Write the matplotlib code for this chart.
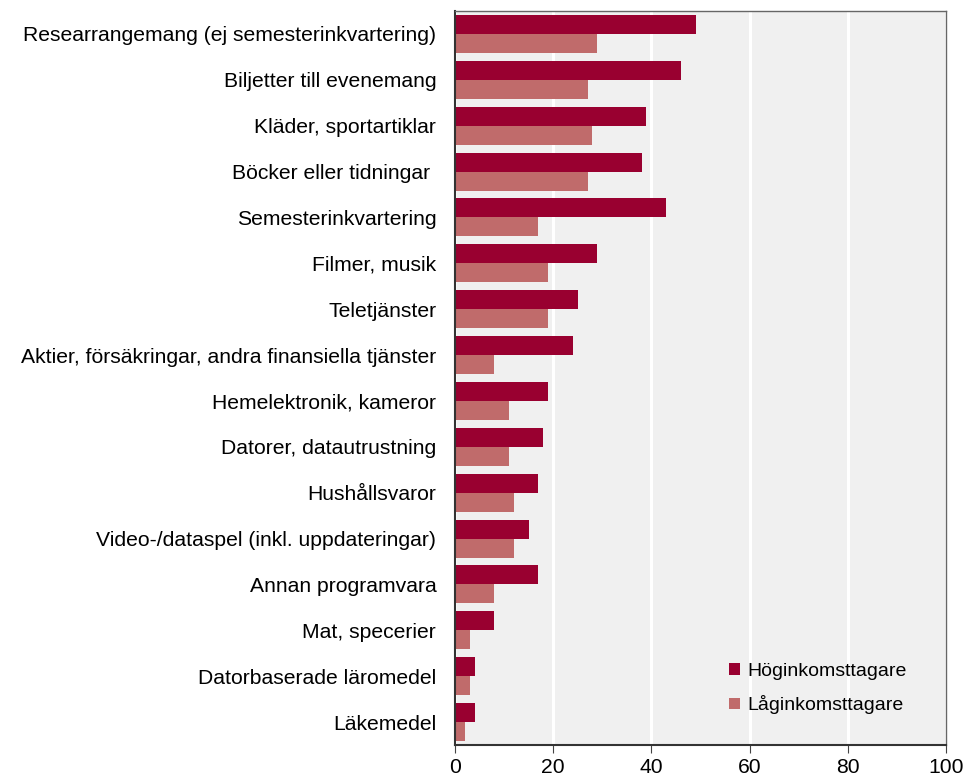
import numpy as np
import matplotlib.pyplot as plt

plt.rcParams['font.family'] = ['Liberation Sans', 'DejaVu Sans']

categories = [
    'Researrangemang (ej semesterinkvartering)',
    'Biljetter till evenemang',
    'Kläder, sportartiklar',
    'Böcker eller tidningar ',
    'Semesterinkvartering',
    'Filmer, musik',
    'Teletjänster',
    'Aktier, försäkringar, andra finansiella tjänster',
    'Hemelektronik, kameror',
    'Datorer, datautrustning',
    'Hushållsvaror',
    'Video-/dataspel (inkl. uppdateringar)',
    'Annan programvara',
    'Mat, specerier',
    'Datorbaserade läromedel',
    'Läkemedel',
]
hog = [49, 46, 39, 38, 43, 29, 25, 24, 19, 18, 17, 15, 17, 8, 4, 4]
lag = [29, 27, 28, 27, 17, 19, 19, 8, 11, 11, 12, 12, 8, 3, 3, 2]
xticks = [0, 20, 40, 60, 80, 100]

fig = plt.figure(figsize=(9.67, 7.79), dpi=100)
ax = fig.add_axes([455 / 967, 34 / 779, 491 / 967, 734 / 779])

y = np.arange(len(categories))
h = 0.414
ax.barh(y - h / 2, hog, height=h, color='#990030', label='Höginkomsttagare')
ax.barh(y + h / 2, lag, height=h, color='#c06b6b', label='Låginkomsttagare')

ax.set_facecolor('#f0f0f0')
ax.set_xlim(0, 100)
ax.set_ylim(len(categories) - 0.5, -0.5)
ax.set_xticks(xticks)
ax.set_yticks(y)
ax.set_yticklabels(categories, fontsize=15.2)
ax.tick_params(axis='x', labelsize=15.2, length=6, color='#444444', direction='out', pad=3.5)
ax.tick_params(axis='y', length=0, pad=13.5)
ax.grid(axis='x', color='white', linewidth=2.2)
ax.set_axisbelow(True)
for side in ['top', 'right']:
    ax.spines[side].set_color('#666666')
    ax.spines[side].set_linewidth(1)
for side in ['left', 'bottom']:
    ax.spines[side].set_color('#333333')
    ax.spines[side].set_linewidth(1.5)

ax.legend(loc='center left', bbox_to_anchor=(0.558, 0.077), frameon=False,
          fontsize=14, handlelength=0.55, handleheight=0.55, handletextpad=0.42,
          labelspacing=0.8, borderpad=0, borderaxespad=0)

fig.savefig('out.png', dpi=100)
